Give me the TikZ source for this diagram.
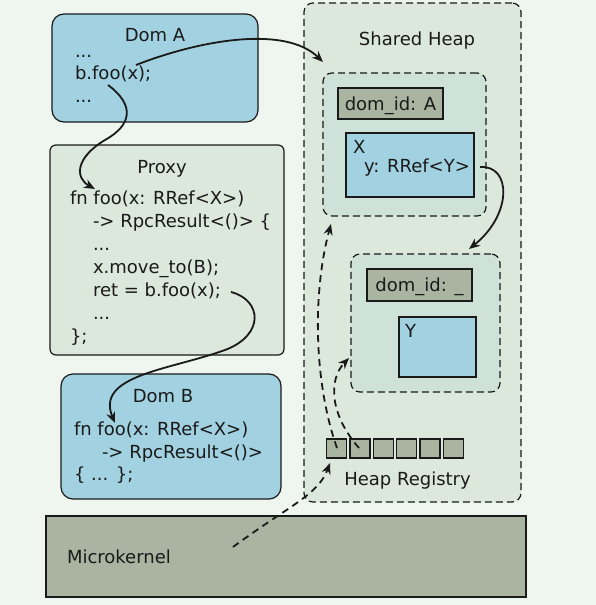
\documentclass[tikz,border=0pt]{standalone}
\usepackage{fontspec}
\setmainfont{DejaVu Sans}
\usetikzlibrary{arrows.meta}
\definecolor{bgc}{HTML}{EFF5EF}
\definecolor{domblue}{HTML}{A2D2E1}
\definecolor{proxyc}{HTML}{DCE8DC}
\definecolor{heapc}{HTML}{DCE8DB}
\definecolor{innerc}{HTML}{CFE2DA}
\definecolor{grayc}{HTML}{A9B5A1}
\definecolor{linec}{HTML}{1A1A1A}
\begin{document}
\begin{tikzpicture}[x=1pt,y=-1pt,
  font=\fontsize{18}{23}\selectfont,
  box/.style={draw=linec, line width=1.2pt, rectangle, inner sep=0pt, outer sep=0pt},
  dombox/.style={box, rounded corners=12pt, fill=domblue},
  proxybox/.style={box, rounded corners=6pt, fill=proxyc},
  heapbox/.style={box, dashed, dash pattern=on 7pt off 4pt, rounded corners=9pt, fill=heapc},
  innerbox/.style={box, dashed, dash pattern=on 7pt off 4pt, rounded corners=9pt, fill=innerc},
  graybox/.style={box, fill=grayc},
  bluebox/.style={box, fill=domblue},
  txt/.style={inner sep=0pt, outer sep=0pt, anchor=base west, text=linec},
  ctxt/.style={inner sep=0pt, outer sep=0pt, anchor=base, text=linec},
  conn/.style={draw=linec, line width=1.8pt, -{Stealth[length=11pt,width=9pt]}},
  dconn/.style={conn, dash pattern=on 7pt off 5pt},
]
\useasboundingbox[fill=bgc] (0,0) rectangle (596,605);

% Shared heap
\node[heapbox, minimum width=217pt, minimum height=499pt] (heap) at (412.5,252.5) {};
\node[ctxt] (heapT) at (417,45) {Shared Heap};

% Inner box A
\node[innerbox, minimum width=163pt, minimum height=143pt] (ia) at (404.5,144.5) {};
\node[graybox, minimum width=105pt, minimum height=31pt] (ida) at (390.5,103.5) {};
\node[ctxt] (idaT) at (390.5,110) {dom\_id: A};
\node[bluebox, minimum width=128pt, minimum height=64pt] (xbox) at (410,165) {};
\node[txt] (xT) at (353,153) {X};
\node[txt] (yref) at (364,172) {y: RRef<Y>};

% Inner box B
\node[innerbox, minimum width=149pt, minimum height=138pt] (ib) at (425.5,323) {};
\node[graybox, minimum width=105pt, minimum height=32pt] (idb) at (419.5,285) {};
\node[ctxt] (idbT) at (419.5,291) {dom\_id: \_};
\node[bluebox, minimum width=77pt, minimum height=60pt] (ybox) at (437.5,347) {};
\node[txt] (yT) at (405,337) {Y};

% Registry
\foreach \i in {1,...,6} {
  \node[graybox, minimum width=20pt, minimum height=19pt] (r\i) at ({336.7+23.3*(\i-1)},448.5) {};
}
\node[ctxt] (regT) at (407.5,485) {Heap Registry};

% Dom A
\node[dombox, minimum width=206pt, minimum height=108pt] (doma) at (155,68) {};
\node[ctxt] (domaT) at (155,41) {Dom A};
\node[txt] (a1) at (75,57) {...};
\node[txt] (a2) at (75,79) {b.foo(x);};
\node[txt] (a3) at (75,102) {...};

% Proxy
\node[proxybox, minimum width=234pt, minimum height=210pt] (proxy) at (167,250) {};
\node[ctxt] (proxyT) at (162,173) {Proxy};
\node[txt] (p1) at (70,204) {fn foo(x: RRef<X>)};
\node[txt] (p2) at (93,227) {-> RpcResult<()> \{};
\node[txt] (p3) at (93,250) {...};
\node[txt] (p4) at (93,273) {x.move\_to(B);};
\node[txt] (p5) at (93,296) {ret = b.foo(x);};
\node[txt] (p6) at (93,319) {...};
\node[txt] (p7) at (70,342) {\};};

% Dom B
\node[dombox, minimum width=220pt, minimum height=125pt] (domb) at (171,436.5) {};
\node[ctxt] (dombT) at (163,402) {Dom B};
\node[txt] (b1) at (74,435) {fn foo(x: RRef<X>)};
\node[txt] (b2) at (102,458) {-> RpcResult<()>};
\node[txt] (b3) at (74,480) {\{ ... \};};

% Microkernel
\node[graybox, minimum width=480pt, minimum height=81pt] (mk) at (286,556.5) {};
\node[txt] (mkT) at (67,563) {Microkernel};

% coordinates
\coordinate (s1) at (136,65);
\coordinate (s2) at (108,85);
\coordinate (e2) at (95,189);
\coordinate (s3) at (231,292);
\coordinate (e3) at (115,423);
\coordinate (s4) at (480,167);
\coordinate (e4) at (469,249);
\coordinate (e1) at (323,62);
\coordinate (sd1) at (337,448);
\coordinate (ed1) at (331,224);
\coordinate (sd2) at (359,448);
\coordinate (ed2) at (349,358);
\coordinate (sd3) at (233,547);
\coordinate (ed3) at (330,463);

% connectors
\draw[conn] (s1) .. controls (200,40) and (285,25) .. (e1);
\draw[conn] (s2) .. controls (135,105) and (132,125) .. (105,140) .. controls (75,158) and (75,178) .. (e2);
\draw[conn] (s3) .. controls (262,300) and (265,335) .. (225,350) .. controls (170,370) and (95,375) .. (e3);
\draw[conn] (s4) .. controls (512,165) and (512,215) .. (e4);
\draw[dconn] (sd1) .. controls (313,380) and (313,290) .. (ed1);
\draw[dconn] (sd2) .. controls (330,415) and (328,380) .. (ed2);
\draw[dconn] (sd3) .. controls (290,505) and (318,495) .. (ed3);
\end{tikzpicture}
\end{document}
